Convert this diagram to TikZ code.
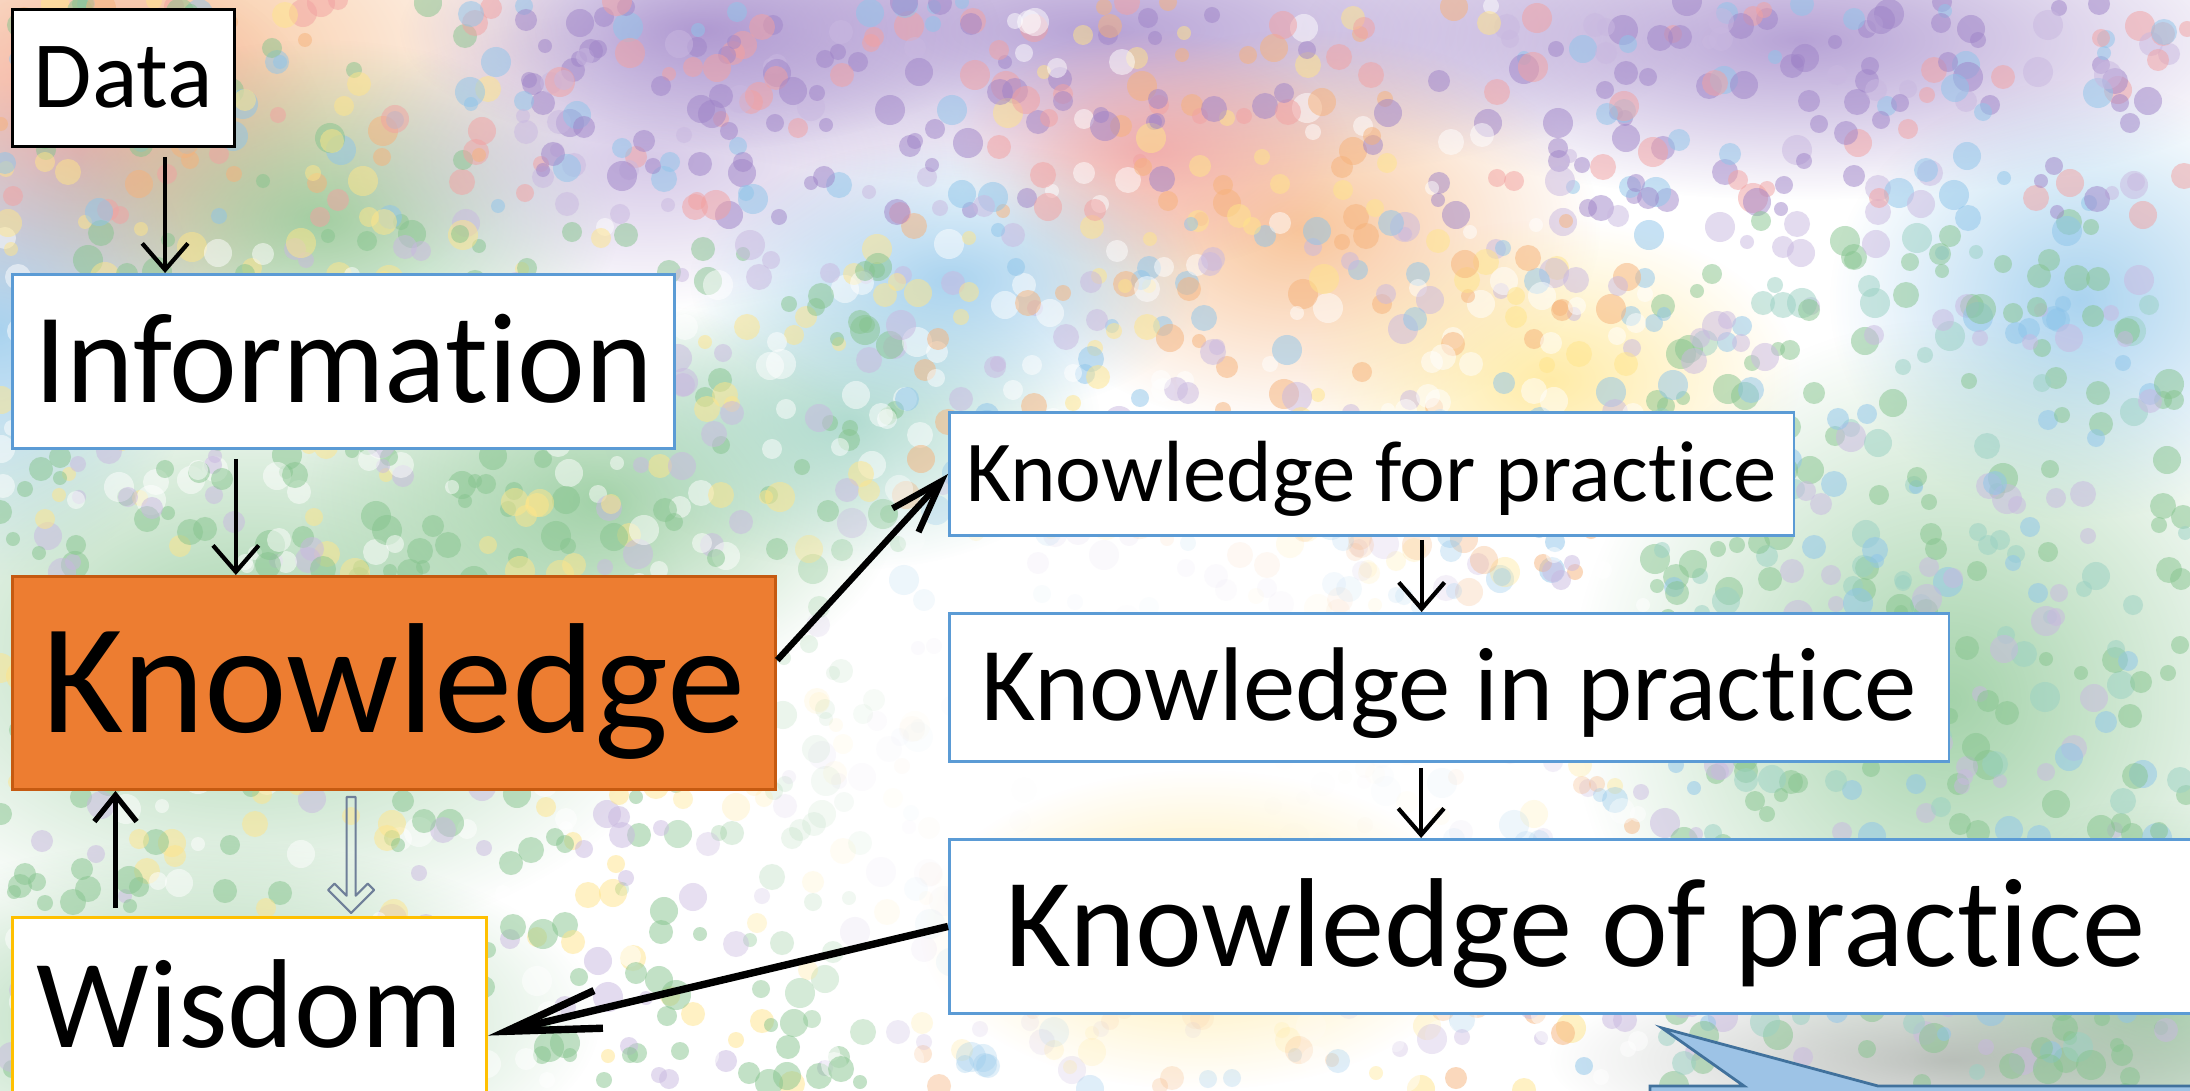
\documentclass[tikz,border=0pt]{standalone}
\usepackage{fontspec}
\setmainfont{Carlito}[Ligatures=NoCommon]
\usetikzlibrary{arrows.meta, positioning, calc, fadings}

\definecolor{boxblue}{HTML}{5B9BD5}
\definecolor{knoworange}{HTML}{ED7D31}
\definecolor{knowedge}{HTML}{C55A11}
\definecolor{wisgold}{HTML}{FFC000}
\definecolor{callfill}{HTML}{9DC3E6}
\definecolor{calledge}{HTML}{41719C}
\definecolor{faintline}{HTML}{6F7F99}
\definecolor{bgpurple}{HTML}{9F84C8}
\definecolor{bglilac}{HTML}{C9B8E0}
\definecolor{bgpink}{HTML}{F2A1A1}
\definecolor{bgorange}{HTML}{F6B27A}
\definecolor{bgyellow}{HTML}{FFE58A}
\definecolor{bggreen}{HTML}{86C48E}
\definecolor{bgteal}{HTML}{9AD1C3}
\definecolor{bgblue}{HTML}{8EC5EA}
\definecolor{bggray}{HTML}{A8ADA8}
\definecolor{bgwhite}{HTML}{FFFFFF}

\tikzfading[name=softedge, inner color=transparent!0, outer color=transparent!100]

\tikzset{
  box/.style={draw=boxblue, line width=0.8pt, fill=white, anchor=north west,
    inner sep=0pt, text depth=0pt},
  lbl/.style={font=\fontsize{#1}{#1}\selectfont, text height={0.632*#1pt}},
  arr/.style={line width=1.2pt, -{Straight Barb[length=7.5pt, width=13pt]}},
  uparr/.style={line width=1.5pt, -{Straight Barb[length=7.5pt, width=12pt]}},
  longarr/.style={line width=1.8pt, -{Straight Barb[length=15pt, width=10pt]}},
  bigarr/.style={line width=2.1pt, -{Straight Barb[length=27pt, width=11pt]}},
}

\begin{document}
\begin{tikzpicture}[x=0.01cm, y=-0.01cm]
    \useasboundingbox (0,0) rectangle (2190,1091);
    \clip (0,0) rectangle (2190,1091);

    % background
    \fill[white] (0,0) rectangle (2190,1091);
    \foreach \cx/\cy/\rx/\ry/\col in {150/60/450/260/bgorange, 80/150/250/200/bgpink,
        320/220/300/180/bggreen, 0/330/200/250/bgblue, 650/160/320/150/bglilac,
        1100/30/600/160/bgpurple, 1800/40/500/160/bgpurple, 1300/230/300/200/bgorange,
        1150/150/200/120/bgpink, 1550/380/250/160/bgyellow, 2080/300/250/220/bgblue,
        1950/700/380/380/bggreen, 2150/1000/250/200/bggreen, 250/650/450/300/bggreen,
        600/500/300/200/bggreen, 850/420/250/150/bgteal, 200/1020/400/180/bggreen,
        1200/930/280/160/bgyellow, 1950/1060/400/100/bggray, 950/280/260/140/bgblue,
        700/30/300/120/bgpurple}
        \fill[\col, path fading=softedge, opacity=0.75] (\cx,\cy) ellipse [x radius=\rx, y radius=\ry];

    \pgfmathsetseed{42}
    \foreach \i in {1,...,2600}{
        \pgfmathsetmacro\bx{random(0,2190)}
        \pgfmathsetmacro\by{random(0,1091)}
        \pgfmathsetmacro\bd{((\bx-1150)/500)^2+((\by-780)/360)^2}
        \pgfmathsetmacro\bo{min(0.5,0.5*\bd^2)}
        \pgfmathtruncatemacro\reg{(\by<220) ? ((\bx<500) ? 0 : (((\bx>1000) && (\bx<1500)) ? 5 : 1)) : ((\bx>1650) ? 2 : ((\bx<900) ? 3 : 4))}
        \pgfmathtruncatemacro\k{5*\reg+random(0,4)}
        \pgfmathparse{{"bgorange","bgyellow","bggreen","bgpink","bgblue",
            "bgpurple","bgpurple","bglilac","bgpink","bgblue",
            "bggreen","bggreen","bgteal","bgblue","bglilac",
            "bggreen","bggreen","bgwhite","bglilac","bgyellow",
            "bgwhite","bgyellow","bgblue","bgorange","bglilac",
            "bgorange","bgpink","bgyellow","bgwhite","bgpurple"}[\k]}
        \let\bcol\pgfmathresult
        \pgfmathsetmacro\br{random(7,15)*0.2845}
        \fill[\bcol, opacity=\bo] (\bx,\by) circle[radius=\br pt];
    }

    % boxes
    \node[box, draw=black, lbl=27, minimum width=2.22cm, minimum height=1.37cm] (data) at (11,8) {Data};
    \node[box, lbl=36.5, minimum width=6.62cm, minimum height=1.74cm] (info) at (11,273) {Information};
    \node[box, draw=knowedge, fill=knoworange, lbl=44.6, minimum width=7.63cm, minimum height=2.13cm] (know) at (11,575) {Knowledge};
    \node[box, draw=wisgold, lbl=36, minimum width=4.74cm, minimum height=1.80cm] (wis) at (11,916) {Wisdom};
    \node[box, lbl=24.7, minimum width=8.44cm, minimum height=1.23cm] (kfp) at (948,411) {Knowledge for practice};
    \node[box, lbl=29.8, minimum width=9.99cm, minimum height=1.48cm] (kip) at (948,612) {Knowledge in practice};
    \node[box, lbl=36, minimum width=12.51cm, minimum height=1.74cm] (kop) at (948,838) {Knowledge of practice};

    % connectors
    \draw[arr] ($(data.south west)!.685!(data.south east)$) ++(0,9) coordinate (d1) -- (d1 |- info.north);
    \draw[arr] ($(info.south west)!.338!(info.south east)$) ++(0,9) coordinate (i1) -- (i1 |- know.north);
    \draw[uparr] ($(wis.north west)!.219!(wis.north east)$) ++(0,-8) coordinate (w1) -- (w1 |- know.south);
    \draw[arr] ($(kfp.south west)!.559!(kfp.south east)$) ++(0,3) coordinate (f1) -- (f1 |- kip.north);
    \draw[arr] ($(kip.south west)!.472!(kip.south east)$) ++(0,5) coordinate (p1) -- (p1 |- kop.north);
    \draw[longarr] ([yshift=6.5pt]know.east) -- (kfp.west);
    \draw[bigarr] (kop.west) -- ([yshift=-8pt]wis.east);

    \coordinate (ftip) at ($(wis.north west)!.713!(wis.north east)$);
    \draw[faintline, line width=0.6pt, line join=round, shift={(ftip)}]
        (0,-3) -- (23,-26) -- (16.6,-32.4) -- (4.5,-20.3) -- (4.5,-119)
        -- (-4.5,-119) -- (-4.5,-20.3) -- (-16.6,-32.4) -- (-23,-26) -- cycle;

    % callout
    \draw[fill=callfill, draw=calledge, line width=0.8pt]
        (1650,1110) -- (1650,1086) -- (1744,1086) -- (1662,1028) -- (1878,1086)
        -- (2210,1086) -- (2210,1110) -- cycle;
\end{tikzpicture}
\end{document}
